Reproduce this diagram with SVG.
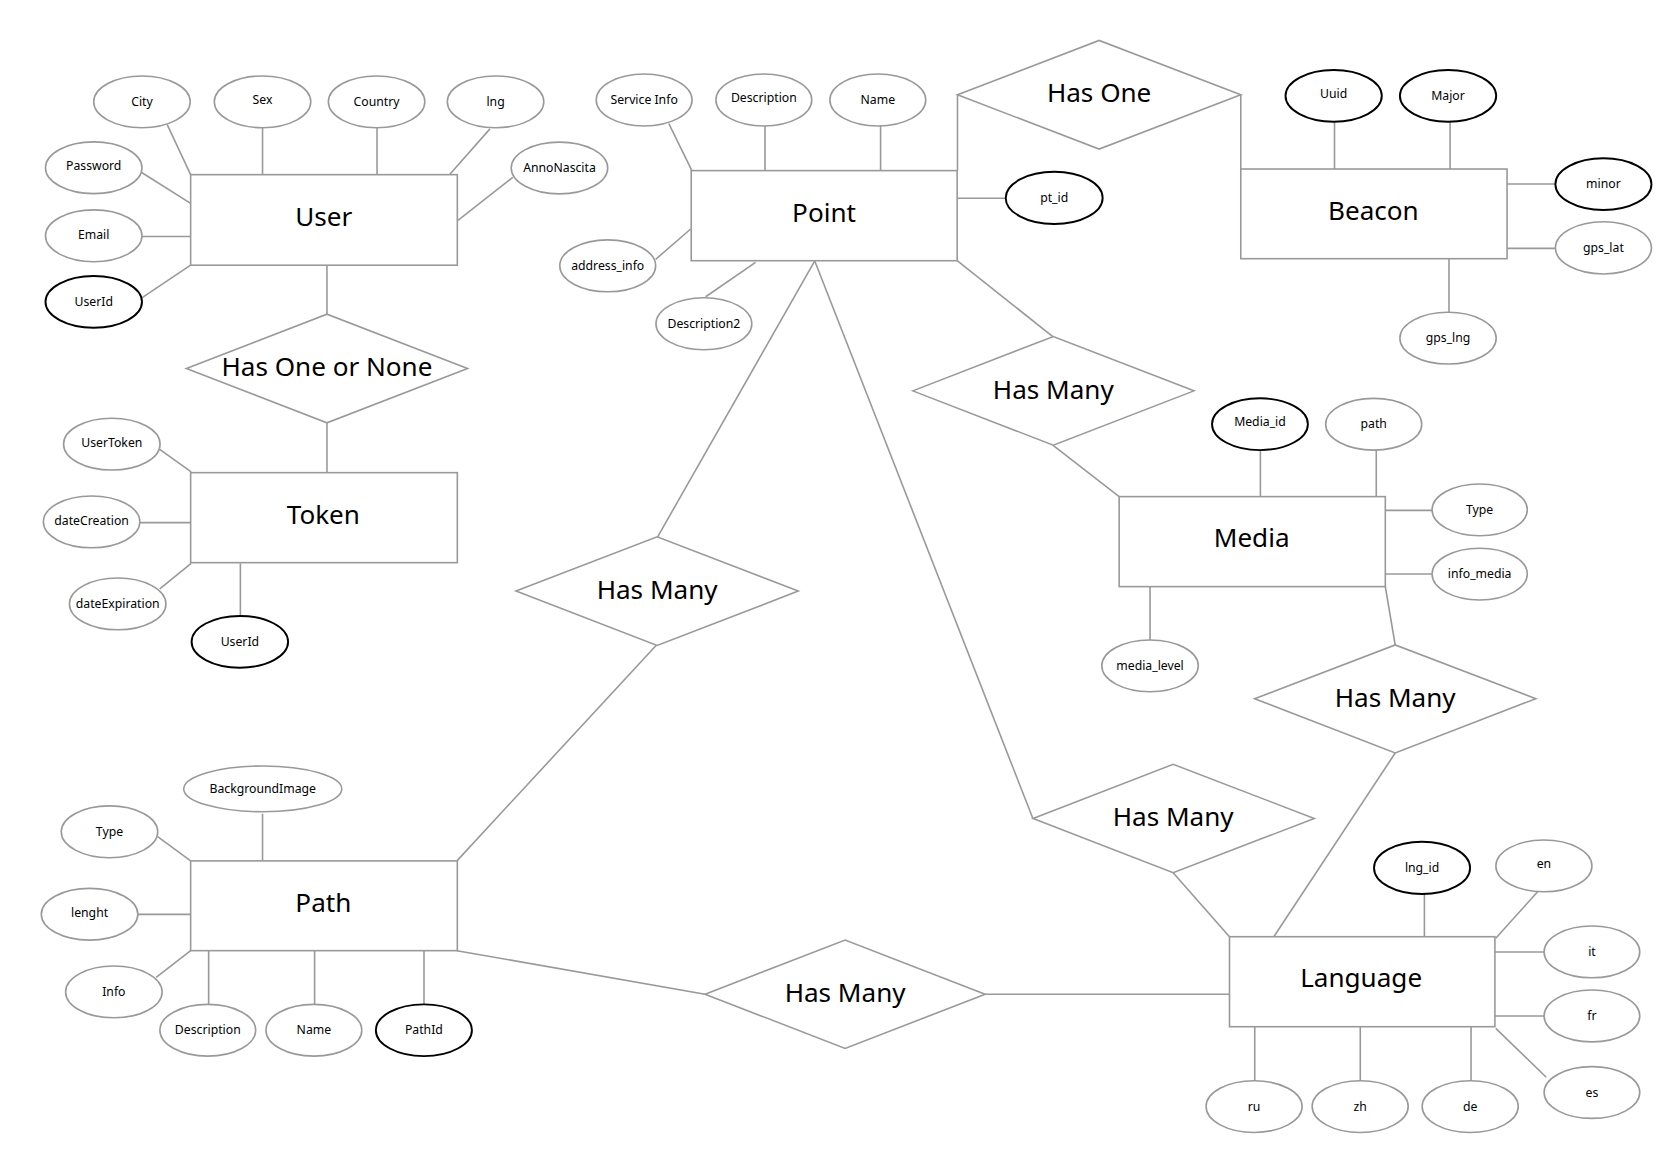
<svg xmlns="http://www.w3.org/2000/svg" width="1670" height="1170" viewBox="0 0 1670 1170">
<style>
.ent{fill:#fff;stroke:#999;stroke-width:1.5}
.rel{fill:#fff;stroke:#999;stroke-width:1.5}
.att{fill:#fff;stroke:#999;stroke-width:1.5}
.key{fill:#fff;stroke:#000;stroke-width:1.8}
.ln{stroke:#999;stroke-width:1.5;fill:none}
.big{font-family:"Noto Sans","DejaVu Sans",sans-serif;font-size:24.5px;fill:#000;text-anchor:middle}
.sm{font-family:"Noto Sans","DejaVu Sans",sans-serif;font-size:11.5px;fill:#000;text-anchor:middle}
</style>
<rect x="0" y="0" width="1670" height="1170" fill="#fff"/>
<g transform="scale(1.06505)">
<g id="connectors">
<line class="ln" x1="157" y1="117" x2="179" y2="164"/>
<line class="ln" x1="246.5" y1="120" x2="246.5" y2="164"/>
<line class="ln" x1="354" y1="120" x2="354" y2="164"/>
<line class="ln" x1="460" y1="121" x2="422" y2="164"/>
<line class="ln" x1="481.5" y1="166.5" x2="430" y2="207"/>
<line class="ln" x1="133" y1="162" x2="179" y2="191"/>
<line class="ln" x1="133" y1="222" x2="179" y2="222"/>
<line class="ln" x1="133.5" y1="279.5" x2="179" y2="249"/>
<line class="ln" x1="307" y1="249" x2="307" y2="295"/>
<line class="ln" x1="307" y1="397" x2="307" y2="444"/>
<line class="ln" x1="150" y1="422" x2="179.5" y2="443"/>
<line class="ln" x1="131.5" y1="490.7" x2="179" y2="490.7"/>
<line class="ln" x1="150" y1="553" x2="179.5" y2="529"/>
<line class="ln" x1="225.7" y1="529" x2="225.7" y2="578.5"/>
<line class="ln" x1="628" y1="116" x2="649.5" y2="160"/>
<line class="ln" x1="718.3" y1="118.3" x2="718.3" y2="160"/>
<line class="ln" x1="826.8" y1="118.3" x2="826.8" y2="160"/>
<line class="ln" x1="615.6" y1="243.5" x2="648.5" y2="215"/>
<line class="ln" x1="662.6" y1="278.6" x2="709.4" y2="246.3"/>
<line class="ln" x1="898.7" y1="186.2" x2="944.3" y2="186.2"/>
<line class="ln" x1="899" y1="160" x2="899" y2="89"/>
<line class="ln" x1="1165" y1="89" x2="1165" y2="159"/>
<line class="ln" x1="1253" y1="114.3" x2="1253" y2="159"/>
<line class="ln" x1="1361.5" y1="114.3" x2="1361.5" y2="159"/>
<line class="ln" x1="1415" y1="172.8" x2="1460.5" y2="172.8"/>
<line class="ln" x1="1415" y1="233.2" x2="1460.5" y2="233.2"/>
<line class="ln" x1="1360.5" y1="243" x2="1360.5" y2="293.3"/>
<line class="ln" x1="899" y1="245" x2="988.5" y2="316"/>
<line class="ln" x1="988.5" y1="418" x2="1050.8" y2="466.3"/>
<line class="ln" x1="765" y1="245" x2="617.5" y2="504"/>
<line class="ln" x1="616" y1="606" x2="429" y2="808.3"/>
<line class="ln" x1="765" y1="245" x2="970" y2="769"/>
<line class="ln" x1="1101.5" y1="819.4" x2="1154.4" y2="879.5"/>
<line class="ln" x1="1300.7" y1="550.8" x2="1310" y2="605.6"/>
<line class="ln" x1="1310" y1="707" x2="1196" y2="879.5"/>
<line class="ln" x1="429" y1="892.6" x2="662" y2="933.5"/>
<line class="ln" x1="925" y1="933.5" x2="1154.4" y2="933.5"/>
<line class="ln" x1="1183.4" y1="422.5" x2="1183.4" y2="466.3"/>
<line class="ln" x1="1292.2" y1="422.5" x2="1292.2" y2="466.3"/>
<line class="ln" x1="1300.7" y1="479.2" x2="1344.6" y2="479.2"/>
<line class="ln" x1="1300.7" y1="539" x2="1344.6" y2="539"/>
<line class="ln" x1="1079.8" y1="550.8" x2="1079.8" y2="601"/>
<line class="ln" x1="246.5" y1="764" x2="246.5" y2="808.3"/>
<line class="ln" x1="148" y1="785.5" x2="179" y2="808.3"/>
<line class="ln" x1="129.4" y1="858.5" x2="179" y2="858.5"/>
<line class="ln" x1="146.6" y1="917.6" x2="179" y2="892.6"/>
<line class="ln" x1="195.9" y1="892.6" x2="195.9" y2="943"/>
<line class="ln" x1="295.4" y1="892.6" x2="295.4" y2="943"/>
<line class="ln" x1="398.1" y1="892.6" x2="398.1" y2="943"/>
<line class="ln" x1="1337.4" y1="839.4" x2="1337.4" y2="879.5"/>
<line class="ln" x1="1443.7" y1="837.3" x2="1404.4" y2="881"/>
<line class="ln" x1="1403.6" y1="893.9" x2="1449.8" y2="893.9"/>
<line class="ln" x1="1403.6" y1="954" x2="1449.8" y2="954"/>
<line class="ln" x1="1404.4" y1="965.5" x2="1451.8" y2="1011.5"/>
<line class="ln" x1="1178.1" y1="964" x2="1178.1" y2="1014.7"/>
<line class="ln" x1="1277.2" y1="964" x2="1277.2" y2="1014.7"/>
<line class="ln" x1="1381.2" y1="964" x2="1381.2" y2="1014.7"/>
</g>

<g id="user"><rect class="ent" x="179" y="164" width="250.4" height="85"/><text class="big" x="304" y="212.5">User</text></g>
<g id="user-city"><ellipse class="att" cx="133.3" cy="95.6" rx="45.3" ry="24.3"/><text class="sm" x="133.3" y="99.6">City</text></g>
<g id="user-sex"><ellipse class="att" cx="246.5" cy="95.6" rx="45.3" ry="24.3"/><text class="sm" x="246.5" y="97.6">Sex</text></g>
<g id="user-country"><ellipse class="att" cx="353.6" cy="95.6" rx="45.3" ry="24.3"/><text class="sm" x="353.6" y="99.6">Country</text></g>
<g id="user-lng"><ellipse class="att" cx="465.3" cy="95.6" rx="45.3" ry="24.3"/><text class="sm" x="465.3" y="99.6">lng</text></g>
<g id="user-annonascita"><ellipse class="att" cx="525.3" cy="157.7" rx="45.3" ry="24.3"/><text class="sm" x="525.3" y="161.7">AnnoNascita</text></g>
<g id="user-password"><ellipse class="att" cx="88" cy="157.5" rx="45.3" ry="24.3"/><text class="sm" x="88" y="159.5">Password</text></g>
<g id="user-email"><ellipse class="att" cx="88" cy="221.4" rx="45.3" ry="24.3"/><text class="sm" x="88" y="224.4">Email</text></g>
<g id="user-userid"><ellipse class="key" cx="88" cy="283.4" rx="45.3" ry="24.3"/><text class="sm" x="88" y="287.4">UserId</text></g>

<g id="rel-has-one-or-none"><polygon class="rel" points="175,346 307,295 439,346 307,397"/><text class="big" x="307" y="353">Has One or None</text></g>

<g id="token"><rect class="ent" x="179" y="443.8" width="250.4" height="84.5"/><text class="big" x="303.6" y="492">Token</text></g>
<g id="token-usertoken"><ellipse class="att" cx="105" cy="417" rx="45.3" ry="24.3"/><text class="sm" x="105" y="420">UserToken</text></g>
<g id="token-datecreation"><ellipse class="att" cx="86" cy="490" rx="45.3" ry="24.3"/><text class="sm" x="86" y="493">dateCreation</text></g>
<g id="token-dateexpiration"><ellipse class="att" cx="110.5" cy="567" rx="45.3" ry="24.3"/><text class="sm" x="110.5" y="571">dateExpiration</text></g>
<g id="token-userid"><ellipse class="key" cx="225.2" cy="602.6" rx="45.3" ry="24.3"/><text class="sm" x="225.2" y="606.6">UserId</text></g>

<g id="point"><rect class="ent" x="649" y="160.2" width="249.7" height="84.6"/><text class="big" x="773.7" y="208.5">Point</text></g>
<g id="point-serviceinfo"><ellipse class="att" cx="604.8" cy="93.9" rx="45" ry="24.4"/><text class="sm" x="604.8" y="97.9">Service Info</text></g>
<g id="point-description"><ellipse class="att" cx="717.2" cy="93.9" rx="45" ry="24.4"/><text class="sm" x="717.2" y="95.9">Description</text></g>
<g id="point-name"><ellipse class="att" cx="824.2" cy="93.9" rx="45" ry="24.4"/><text class="sm" x="824.2" y="97.9">Name</text></g>
<g id="point-addressinfo"><ellipse class="att" cx="570.6" cy="249.6" rx="45" ry="24.4"/><text class="sm" x="570.6" y="253.6">address_info</text></g>
<g id="point-description2"><ellipse class="att" cx="660.9" cy="304" rx="45" ry="24.4"/><text class="sm" x="660.9" y="308">Description2</text></g>
<g id="point-ptid"><ellipse class="key" cx="989.8" cy="185.8" rx="45.5" ry="24.5"/><text class="sm" x="989.8" y="189.8">pt_id</text></g>

<g id="rel-has-one"><polygon class="rel" points="899,89 1032,38 1165,89 1032,140"/><text class="big" x="1032" y="96">Has One</text></g>

<g id="beacon"><rect class="ent" x="1165" y="158.7" width="250" height="84.2"/><text class="big" x="1289.5" y="206.6">Beacon</text></g>
<g id="beacon-uuid"><ellipse class="key" cx="1252.2" cy="90" rx="45.2" ry="24.3"/><text class="sm" x="1252.2" y="92">Uuid</text></g>
<g id="beacon-major"><ellipse class="key" cx="1359.6" cy="90" rx="45.2" ry="24.3"/><text class="sm" x="1359.6" y="94">Major</text></g>
<g id="beacon-minor"><ellipse class="key" cx="1505.5" cy="172.9" rx="45.1" ry="24.3"/><text class="sm" x="1505.5" y="176.9">minor</text></g>
<g id="beacon-gpslat"><ellipse class="att" cx="1505.5" cy="232.7" rx="45.1" ry="24.5"/><text class="sm" x="1505.5" y="236.7">gps_lat</text></g>
<g id="beacon-gpslng"><ellipse class="att" cx="1359.6" cy="317.5" rx="45.2" ry="24.3"/><text class="sm" x="1359.6" y="321.5">gps_lng</text></g>

<g id="rel-point-media"><polygon class="rel" points="857,367 989,316 1121,367 989,418"/><text class="big" x="989" y="374.5">Has Many</text></g>

<g id="media"><rect class="ent" x="1050.8" y="466.3" width="249.9" height="84.5"/><text class="big" x="1175.2" y="513.5">Media</text></g>
<g id="media-mediaid"><ellipse class="key" cx="1183" cy="398.3" rx="45" ry="24.3"/><text class="sm" x="1183" y="400.3">Media_id</text></g>
<g id="media-path"><ellipse class="att" cx="1289.8" cy="398.3" rx="45.1" ry="24.3"/><text class="sm" x="1289.8" y="402.3">path</text></g>
<g id="media-type"><ellipse class="att" cx="1389.3" cy="478.7" rx="44.7" ry="24.3"/><text class="sm" x="1389.3" y="482.7">Type</text></g>
<g id="media-infomedia"><ellipse class="att" cx="1389.3" cy="539" rx="44.7" ry="24.3"/><text class="sm" x="1389.3" y="543">info_media</text></g>
<g id="media-medialevel"><ellipse class="att" cx="1079.8" cy="625.2" rx="45.3" ry="24.3"/><text class="sm" x="1079.8" y="629.2">media_level</text></g>

<g id="rel-media-language"><polygon class="rel" points="1178,656 1310,605.5 1442,656 1310,707"/><text class="big" x="1310" y="663.5">Has Many</text></g>

<g id="rel-point-path"><polygon class="rel" points="484.5,555 617,504 749.5,555 617,606"/><text class="big" x="617" y="562.5">Has Many</text></g>

<g id="rel-point-language"><polygon class="rel" points="970,768.5 1101.5,717.6 1234,768.5 1101.5,819.4"/><text class="big" x="1101.5" y="776">Has Many</text></g>

<g id="path"><rect class="ent" x="179" y="808.3" width="250.4" height="84.3"/><text class="big" x="303.6" y="856">Path</text></g>
<g id="path-bgimage"><ellipse class="att" cx="246.7" cy="740.7" rx="74.2" ry="21.5"/><text class="sm" x="246.7" y="744.7">BackgroundImage</text></g>
<g id="path-type"><ellipse class="att" cx="102.8" cy="781" rx="45.3" ry="24.3"/><text class="sm" x="102.8" y="785">Type</text></g>
<g id="path-lenght"><ellipse class="att" cx="84.1" cy="858.4" rx="45.3" ry="24.3"/><text class="sm" x="84.1" y="861.4">lenght</text></g>
<g id="path-info"><ellipse class="att" cx="106.9" cy="931.3" rx="45.3" ry="24.3"/><text class="sm" x="106.9" y="935.3">Info</text></g>
<g id="path-description"><ellipse class="att" cx="195.1" cy="967.3" rx="45" ry="24.3"/><text class="sm" x="195.1" y="971.3">Description</text></g>
<g id="path-name"><ellipse class="att" cx="294.7" cy="967.3" rx="45" ry="24.3"/><text class="sm" x="294.7" y="971.3">Name</text></g>
<g id="path-pathid"><ellipse class="key" cx="398" cy="967.3" rx="45.1" ry="24.3"/><text class="sm" x="398" y="971.3">PathId</text></g>

<g id="rel-path-language"><polygon class="rel" points="662,933.5 793.5,882.7 925,933.5 793.5,984.4"/><text class="big" x="793.5" y="940.5">Has Many</text></g>

<g id="language"><rect class="ent" x="1154.4" y="879.5" width="249.2" height="84.5"/><text class="big" x="1278" y="926.5">Language</text></g>
<g id="language-lngid"><ellipse class="key" cx="1335.2" cy="814.9" rx="45.1" ry="24.5"/><text class="sm" x="1335.2" y="818.9">lng_id</text></g>
<g id="language-en"><ellipse class="att" cx="1449.6" cy="813" rx="45.1" ry="24.3"/><text class="sm" x="1449.6" y="815">en</text></g>
<g id="language-it"><ellipse class="att" cx="1494.7" cy="893.8" rx="44.9" ry="24.3"/><text class="sm" x="1494.7" y="897.8">it</text></g>
<g id="language-fr"><ellipse class="att" cx="1494.7" cy="953.9" rx="44.9" ry="24.3"/><text class="sm" x="1494.7" y="957.9">fr</text></g>
<g id="language-es"><ellipse class="att" cx="1494.7" cy="1025.8" rx="44.9" ry="24.3"/><text class="sm" x="1494.7" y="1029.8">es</text></g>
<g id="language-ru"><ellipse class="att" cx="1177.5" cy="1039" rx="45.1" ry="24.3"/><text class="sm" x="1177.5" y="1043">ru</text></g>
<g id="language-zh"><ellipse class="att" cx="1277.1" cy="1039" rx="45.1" ry="24.3"/><text class="sm" x="1277.1" y="1043">zh</text></g>
<g id="language-de"><ellipse class="att" cx="1380.4" cy="1039" rx="45.1" ry="24.3"/><text class="sm" x="1380.4" y="1043">de</text></g>
</g>
</svg>
